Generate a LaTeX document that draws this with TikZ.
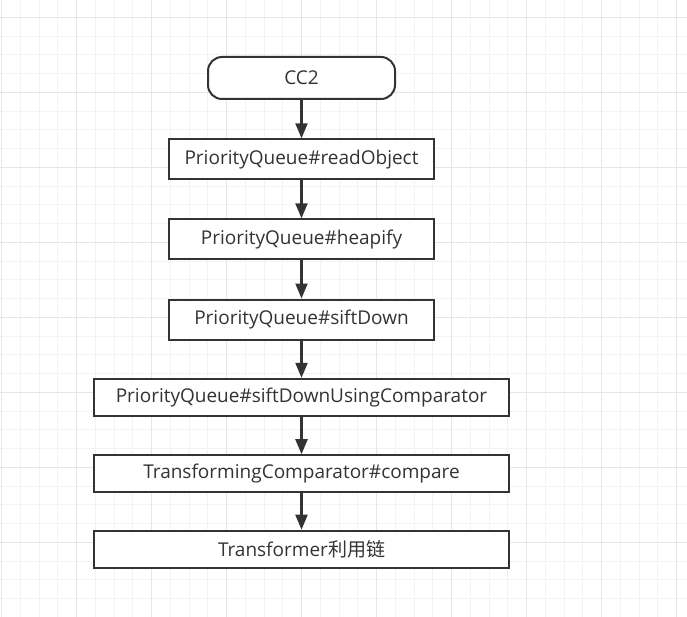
\documentclass[tikz,border=0pt]{standalone}
\usepackage{fontspec}
\setmainfont{Open Sans}
\newfontfamily\cjk{Noto Sans CJK SC}
\usetikzlibrary{arrows.meta}
\definecolor{ink}{HTML}{333333}
\definecolor{gridminor}{HTML}{F3F3F3}
\definecolor{gridmajor}{HTML}{E6E6E6}
\tikzset{
  callbox/.style={draw=ink, line width=2pt, fill=white, text=ink, inner sep=0pt,
    minimum height=40pt, font=\fontsize{19}{23}\selectfont},
  startbox/.style={callbox, rounded corners=14pt, minimum width=187pt, minimum height=42pt},
  flow/.style={draw=ink, line width=2.2pt, -{Triangle[length=15pt,width=12pt]}}
}
\begin{document}
\begin{tikzpicture}[x=1pt,y=-1pt]
\fill[white] (0,0) rectangle (687,617);
\useasboundingbox (0,0) rectangle (687,617);
% background grid
\foreach \i in {0,...,36}
\draw[gridminor,line width=1pt] ({1.7+18.75*\i},0) -- ({1.7+18.75*\i},617);
\foreach \i in {0,...,31}
\draw[gridminor,line width=1pt] (0,{17.3+18.75*\i}) -- (687,{17.3+18.75*\i});
\foreach \i in {0,...,9}
\draw[gridmajor,line width=1pt] ({1.7+75*\i},0) -- ({1.7+75*\i},617);
\foreach \i in {0,...,8}
\draw[gridmajor,line width=1pt] (0,{17.3+75*\i}) -- (687,{17.3+75*\i});
% call chain
\node[startbox] (cc2) at (301.5,78) {CC2};
\node[callbox, minimum width=265pt] (readobj) at (301.5,159.3) {PriorityQueue\#readObject};
\node[callbox, minimum width=265pt] (heapify) at (301.5,239.3) {PriorityQueue\#heapify};
\node[callbox, minimum width=265pt] (siftdown) at (301.5,319.5) {PriorityQueue\#siftDown};
\node[callbox, minimum width=415pt, minimum height=37pt] (siftcmp) at (301.5,397.3) {PriorityQueue\#siftDownUsingComparator};
\node[callbox, minimum width=415pt, minimum height=37pt] (compare) at (301.5,473.7) {TransformingComparator\#compare};
\node[callbox, minimum width=415pt, minimum height=37pt] (chain) at (301.5,549.2) {Transformer{\cjk 利用链}};
\draw[flow] (cc2) -- (readobj);
\draw[flow] (readobj) -- (heapify);
\draw[flow] (heapify) -- (siftdown);
\draw[flow] (siftdown) -- (siftcmp);
\draw[flow] (siftcmp) -- (compare);
\draw[flow] (compare) -- (chain);
\end{tikzpicture}
\end{document}
